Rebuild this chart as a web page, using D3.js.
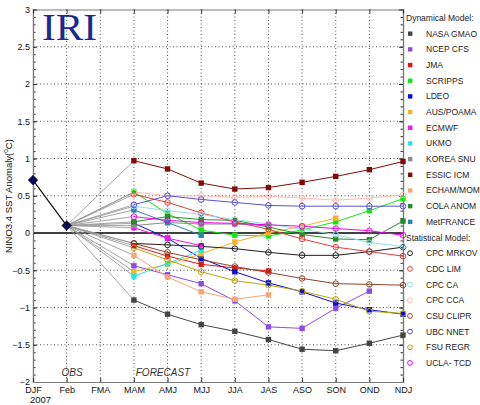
<!DOCTYPE html>
<html>
<head>
<meta charset="utf-8">
<script src="https://cdn.jsdelivr.net/npm/d3@7"></script>
<style>
body { margin: 0; background: #fff; }
text { font-family: "Liberation Sans", Arial, sans-serif; }
</style>
</head>
<body>
<div id="chart"></div>
<script>
// Seasons on the x axis
const seasons = ['DJF', 'Feb', 'FMA', 'MAM', 'AMJ', 'MJJ', 'JJA', 'JAS', 'ASO', 'SON', 'OND', 'NDJ']
const forecastSeasons = ['MAM', 'AMJ', 'MJJ', 'JJA', 'JAS', 'ASO', 'SON', 'OND', 'NDJ']
const yTicks = [3, 2.5, 2, 1.5, 1, 0.5, 0, -0.5, -1, -1.5, -2]

// Observed anomalies
const obsSeasons = ['DJF', 'Feb']
const obsValues = [0.71, 0.1]

// Dynamical models (values from MAM onward)
const nasaGmao = [-0.9, -1.09, -1.23, -1.32, -1.43, -1.56, -1.58, -1.48, -1.37]
const ncepCfs = [-0.44, -0.56, -0.68, -0.91, -1.26, -1.28, -1.01, -0.78]
const jma = [-0.17, -0.31, -0.42, -0.47, -0.51]
const scripps = [0.55, 0.26, 0.04, -0.03, -0.04, 0.04, 0.15, 0.3, 0.46]
const ldeo = [0.13, -0.07, -0.34, -0.52, -0.67, -0.79, -0.94, -1.03, -1.09]
const ausPoama = [-0.52, -0.42, -0.28, -0.12, 0.0, 0.09, 0.2]
const ecmwf = [0.07, -0.07, -0.17]
const ukmo = [-0.58, -0.41, -0.23]
const koreaSnu = [0.1, 0.14, 0.12, 0.12, 0.1]
const essicIcm = [0.97, 0.86, 0.67, 0.59, 0.61, 0.68, 0.76, 0.85, 0.96]
const echamMom = [-0.3, -0.59, -0.79, -0.89, -0.83]
const colaAnom = [0.15, 0.22, 0.18, 0.17, 0.08, -0.02, -0.08, -0.09, 0.16]
const metFrance = [0.31, 0.14, -0.03]

// Statistical models
const cpcMrkov = [-0.14, -0.16, -0.18, -0.21, -0.26, -0.3, -0.3, -0.25, -0.19]
const cdcLim = [0.52, 0.41, 0.27, 0.15, 0.05, -0.08, -0.19, -0.25, -0.31]
const cpcCa = [0.36, 0.3, 0.25, 0.18, 0.12, 0.05, -0.02, -0.13, -0.18]
const cpcCca = [0.55, 0.5, 0.5, 0.48, 0.49, 0.47, 0.44, 0.47, 0.51]
const csuClipr = [-0.14, -0.26, -0.36, -0.45, -0.53, -0.61, -0.68, -0.69, -0.7]
const ubcNnet = [0.38, 0.5, 0.45, 0.41, 0.37, 0.36, 0.36, 0.36, 0.36]
const fsuRegr = [-0.2, -0.36, -0.52, -0.64, -0.7, -0.78, -0.89, -1.05, -1.08]
const uclaTcd = [0.22, 0.17, 0.14, 0.13, 0.11, 0.09, 0.06, 0.03, -0.03]

const dynamicalNames = ['NASA GMAO', 'NCEP CFS', 'JMA', 'SCRIPPS', 'LDEO', 'AUS/POAMA', 'ECMWF',
    'UKMO', 'KOREA SNU', 'ESSIC ICM', 'ECHAM/MOM', 'COLA ANOM', 'MetFRANCE']
const dynamicalValues = [nasaGmao, ncepCfs, jma, scripps, ldeo, ausPoama, ecmwf,
    ukmo, koreaSnu, essicIcm, echamMom, colaAnom, metFrance]
const statisticalNames = ['CPC MRKOV', 'CDC LIM', 'CPC CA', 'CPC CCA', 'CSU CLIPR', 'UBC NNET', 'FSU REGR', 'UCLA- TCD']
const statisticalValues = [cpcMrkov, cdcLim, cpcCa, cpcCca, csuClipr, ubcNnet, fsuRegr, uclaTcd]

// Colours per model
const modelColor = {
    'NASA GMAO': '#454545', 'NCEP CFS': '#8c4be6', 'JMA': '#e81414', 'SCRIPPS': '#14e614',
    'LDEO': '#0a0ad2', 'AUS/POAMA': '#f5b423', 'ECMWF': '#f014f0', 'UKMO': '#23e6e6',
    'KOREA SNU': '#8c8c8c', 'ESSIC ICM': '#820a0a', 'ECHAM/MOM': '#f5a578', 'COLA ANOM': '#288c28',
    'MetFRANCE': '#2882b4', 'CPC MRKOV': '#1e1e1e', 'CDC LIM': '#e63c3c', 'CPC CA': '#96dcf0',
    'CPC CCA': '#ffb9b4', 'CSU CLIPR': '#8c4628', 'UBC NNET': '#5a50d2', 'FSU REGR': '#b9a50a',
    'UCLA- TCD': '#f000f0'
}

const models = []
dynamicalNames.forEach((name, i) => models.push({ name: name, kind: 'dyn', values: dynamicalValues[i] }))
statisticalNames.forEach((name, i) => models.push({ name: name, kind: 'stat', values: statisticalValues[i] }))

const width = 480
const height = 405

let svg = d3.select('#chart')
    .append('svg')
    .attr('width', width)
    .attr('height', height)

// Scales
let xScale = d3.scalePoint()
    .domain(seasons)
    .range([33, 403])

let yScale = d3.scaleLinear()
    .domain([-2, 3])
    .range([382, 9.5])

const plotLeft = 33
const plotRight = 403
const plotTop = 9.5
const plotBottom = 382

// Grid
let grid = svg.append('g')
grid.selectAll('.vgrid')
    .data(seasons.slice(1, -1))
    .enter()
    .append('line')
    .attr('x1', d => xScale(d))
    .attr('x2', d => xScale(d))
    .attr('y1', plotTop)
    .attr('y2', plotBottom)
    .attr('stroke', '#222')
    .attr('stroke-width', 0.8)
    .attr('stroke-dasharray', '1,2.5')

grid.selectAll('.hgrid')
    .data(yTicks.filter(d => d !== 0 && d !== 3 && d !== -2))
    .enter()
    .append('line')
    .attr('x1', plotLeft)
    .attr('x2', plotRight)
    .attr('y1', d => yScale(d))
    .attr('y2', d => yScale(d))
    .attr('stroke', '#222')
    .attr('stroke-width', 0.8)
    .attr('stroke-dasharray', '1,2.5')

// Zero line
svg.append('line')
    .attr('x1', plotLeft)
    .attr('x2', plotRight)
    .attr('y1', yScale(0))
    .attr('y2', yScale(0))
    .attr('stroke', '#000')
    .attr('stroke-width', 1.5)

// Axes (ticks point inward)
let leftAxis = d3.axisLeft(yScale)
    .tickValues(yTicks)
    .tickSize(-4)
    .tickPadding(6)
    .tickFormat(d => d3.format('')(d).replace('-', '\u2212'))

let leftMinor = d3.axisLeft(yScale)
    .tickValues(d3.range(-20, 31).map(d => d / 10))
    .tickSize(-2.5)
    .tickFormat('')

let rightAxis = d3.axisRight(yScale)
    .tickValues(yTicks)
    .tickSize(-4)
    .tickFormat('')

let rightMinor = d3.axisRight(yScale)
    .tickValues(d3.range(-20, 31).map(d => d / 10))
    .tickSize(-2.5)
    .tickFormat('')

let bottomAxis = d3.axisBottom(xScale)
    .tickSize(-4)
    .tickPadding(5)

let topAxis = d3.axisTop(xScale)
    .tickSize(-4)
    .tickFormat('')

const styleAxis = (g) => {
    g.select('.domain').attr('stroke', '#7a7a7a').attr('stroke-width', 1.2)
    g.selectAll('.tick line').attr('stroke', '#333')
    g.selectAll('.tick text').attr('fill', '#111').attr('font-size', '9px')
}

svg.append('g').attr('transform', 'translate(' + plotLeft + ',0)').call(leftMinor).call(styleAxis)
svg.append('g').attr('transform', 'translate(' + plotLeft + ',0)').call(leftAxis).call(styleAxis)
    .selectAll('.tick text').attr('x', -3)
svg.append('g').attr('transform', 'translate(' + plotRight + ',0)').call(rightMinor).call(styleAxis)
svg.append('g').attr('transform', 'translate(' + plotRight + ',0)').call(rightAxis).call(styleAxis)
svg.append('g').attr('transform', 'translate(0,' + plotBottom + ')').call(bottomAxis).call(styleAxis)
svg.append('g').attr('transform', 'translate(0,' + plotTop + ')').call(topAxis).call(styleAxis)

svg.append('text')
    .attr('x', 30)
    .attr('y', 403)
    .attr('font-size', '9.5px')
    .attr('fill', '#111')
    .text('2007')

// Y label
let yLabel = svg.append('text')
    .attr('transform', 'translate(12,' + 196 + ') rotate(-90)')
    .attr('text-anchor', 'middle')
    .attr('font-size', '9.5px')
    .attr('fill', '#111')
yLabel.append('tspan').text('NINO3.4 SST Anomaly(')
yLabel.append('tspan').attr('font-size', '6.5px').attr('dy', -4).text('o')
yLabel.append('tspan').attr('dy', 4).text('C)')

// IRI logo
svg.append('text')
    .attr('x', 42)
    .attr('y', 40)
    .style('font-family', '"Liberation Serif", "Times New Roman", serif')
    .attr('font-size', '38px')
    .attr('fill', '#1a2b8f')
    .attr('textLength', 55)
    .attr('lengthAdjust', 'spacingAndGlyphs')
    .text('IRI')

// OBS / FORECAST captions
svg.append('text')
    .attr('x', 72)
    .attr('y', 376)
    .attr('text-anchor', 'middle')
    .attr('font-size', '10px')
    .attr('font-style', 'italic')
    .attr('fill', '#333')
    .text('OBS')

svg.append('text')
    .attr('x', 163)
    .attr('y', 376)
    .attr('text-anchor', 'middle')
    .attr('font-size', '10px')
    .attr('font-style', 'italic')
    .attr('fill', '#333')
    .text('FORECAST')

// Grey connectors from the last observation to each model's first season
svg.append('g').selectAll('line')
    .data(models)
    .enter()
    .append('line')
    .attr('x1', xScale(obsSeasons[1]))
    .attr('y1', yScale(obsValues[1]))
    .attr('x2', xScale(forecastSeasons[0]))
    .attr('y2', d => yScale(d.values[0]))
    .attr('stroke', '#9a9a9a')
    .attr('stroke-width', 0.9)

// Model lines
let lineGen = d3.line()
    .x((d, i) => xScale(forecastSeasons[i]))
    .y(d => yScale(d))

svg.append('g').selectAll('path')
    .data(models)
    .enter()
    .append('path')
    .attr('d', d => lineGen(d.values))
    .attr('fill', 'none')
    .attr('stroke', d => modelColor[d.name])
    .attr('stroke-width', 1)

// Markers
models.forEach((model) => {
    let g = svg.append('g')
    if (model.kind === 'dyn') {
        g.selectAll('rect')
            .data(model.values)
            .enter()
            .append('rect')
            .attr('x', (d, i) => xScale(forecastSeasons[i]) - 2.7)
            .attr('y', d => yScale(d) - 2.7)
            .attr('width', 5.4)
            .attr('height', 5.4)
            .attr('fill', modelColor[model.name])
    } else {
        g.selectAll('circle')
            .data(model.values)
            .enter()
            .append('circle')
            .attr('cx', (d, i) => xScale(forecastSeasons[i]))
            .attr('cy', d => yScale(d))
            .attr('r', 2.8)
            .attr('fill', 'none')
            .attr('stroke', modelColor[model.name])
            .attr('stroke-width', 1)
    }
})

// Observations
svg.append('path')
    .attr('d', d3.line().x((d, i) => xScale(obsSeasons[i])).y(d => yScale(d))(obsValues))
    .attr('fill', 'none')
    .attr('stroke', '#000')
    .attr('stroke-width', 1.1)

svg.append('g').selectAll('path')
    .data(obsValues)
    .enter()
    .append('path')
    .attr('d', d3.symbol(d3.symbolDiamond2, 60))
    .attr('transform', (d, i) => 'translate(' + xScale(obsSeasons[i]) + ',' + yScale(d) + ')')
    .attr('fill', '#0a0a5a')
    .attr('stroke', '#000')
    .attr('stroke-width', 0.5)

// Legend
let legend = svg.append('g')
const legendRows = []
legendRows.push({ header: 'Dynamical Model:' })
dynamicalNames.forEach(n => legendRows.push({ name: n, kind: 'dyn' }))
legendRows.push({ header: 'Statistical Model:' })
statisticalNames.forEach(n => legendRows.push({ name: n, kind: 'stat' }))

const rowY = (i) => 18 + i * 15.68

legendRows.forEach((row, i) => {
    if (row.header) {
        legend.append('text')
            .attr('x', 406)
            .attr('y', rowY(i) + 3)
            .attr('font-size', '8.5px')
            .attr('fill', '#222')
            .text(row.header)
    } else {
        if (row.kind === 'dyn') {
            legend.append('rect')
                .attr('x', 408)
                .attr('y', rowY(i) - 2.2)
                .attr('width', 4.4)
                .attr('height', 4.4)
                .attr('fill', modelColor[row.name])
        } else {
            legend.append('circle')
                .attr('cx', 410)
                .attr('cy', rowY(i))
                .attr('r', 2.4)
                .attr('fill', 'none')
                .attr('stroke', modelColor[row.name])
                .attr('stroke-width', 1)
        }
        legend.append('text')
            .attr('x', 426)
            .attr('y', rowY(i) + 3)
            .attr('font-size', '8.5px')
            .attr('fill', '#222')
            .text(row.name)
    }
})
</script>
</body>
</html>
